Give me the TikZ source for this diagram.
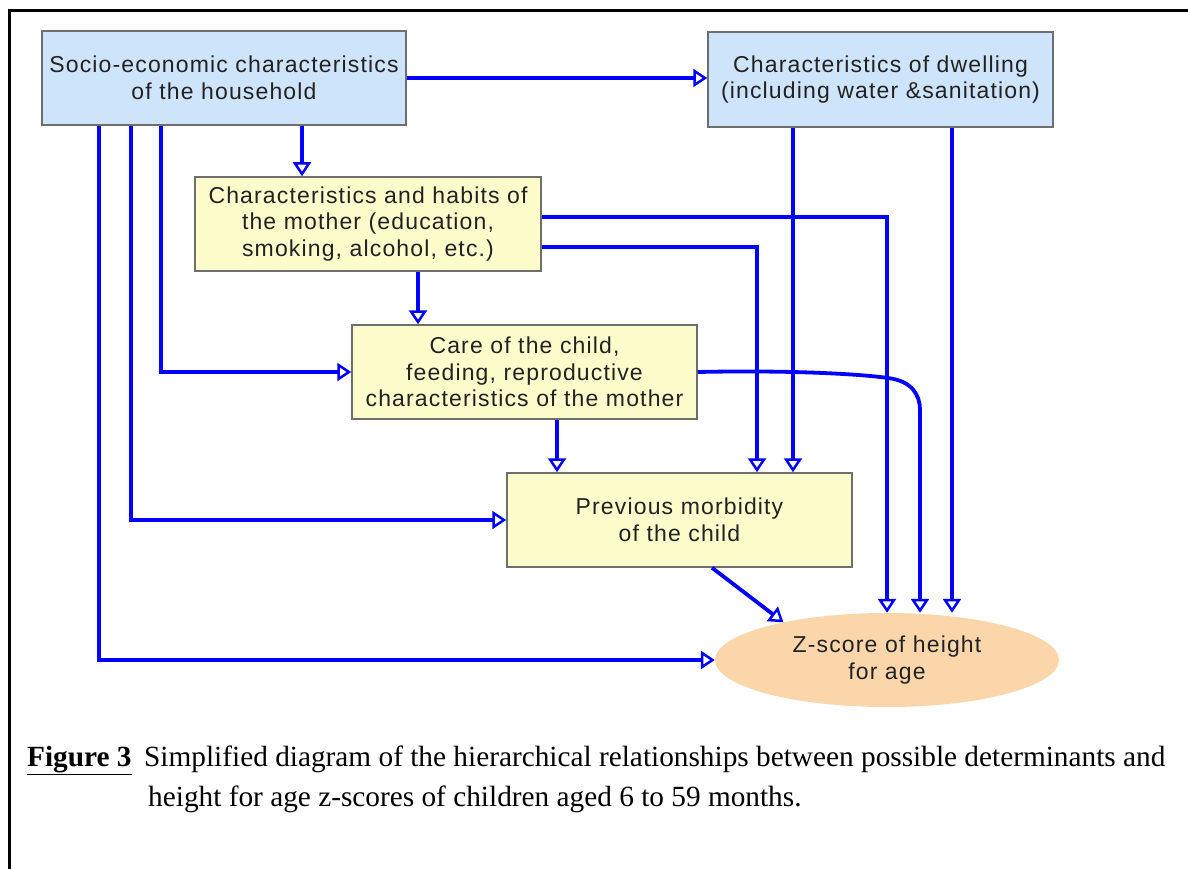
\documentclass[tikz,border=0pt]{standalone}
\usepackage{fontspec}
\setmainfont{Liberation Sans}
\newfontfamily\bxfont[LetterSpace=5]{Liberation Sans}
\newfontfamily\capfont{Liberation Serif}
\usetikzlibrary{arrows.meta,shapes.geometric}
\definecolor{lineblue}{RGB}{0,0,255}
\definecolor{boxblue}{RGB}{206,228,250}
\definecolor{boxyellow}{RGB}{253,253,204}
\definecolor{peach}{RGB}{251,214,170}
\definecolor{boxedge}{RGB}{110,110,110}
\definecolor{txt}{RGB}{34,34,34}
\begin{document}
\begin{tikzpicture}[x=1pt,y=-1pt,
  boxtext/.style={font=\bxfont\fontsize{23}{26.5}\selectfont, text=txt, align=center, inner sep=0pt},
  bluebox/.style={boxtext, draw=boxedge, line width=1.5pt, fill=boxblue, rectangle},
  yellowbox/.style={boxtext, draw=boxedge, line width=1.5pt, fill=boxyellow, rectangle},
  goalnode/.style={boxtext, ellipse, fill=peach},
  conn/.style={draw=lineblue, line width=3.8pt, -{Triangle[open,length=14pt,width=18pt,line width=2.5pt]}},
  captext/.style={anchor=base west, inner sep=0pt, font=\capfont\fontsize{29.3}{35}\selectfont, text=black}
]
\useasboundingbox (0,0) rectangle (1188,869);
\fill[white] (0,0) rectangle (1188,869);
% frame
\draw[line width=3pt, black] (9,869) -- (9,11) -- (1188,11);

% nodes
\node[bluebox, minimum width=364pt, minimum height=94pt] (se) at (224,78)
  {Socio-economic characteristics\\of the household};
\node[bluebox, minimum width=345pt, minimum height=95pt] (dw) at (880.5,79.5)
  {Characteristics of dwelling\\(including water \&sanitation)};
\node[yellowbox, minimum width=346pt, minimum height=94pt] (mo) at (368,224)
  {Characteristics and habits of\\the mother (education,\\smoking, alcohol, etc.)};
\node[yellowbox, minimum width=345pt, minimum height=94pt] (ca) at (524.5,372)
  {Care of the child,\\feeding, reproductive\\characteristics of the mother};
\node[yellowbox, minimum width=345pt, minimum height=94pt] (mb) at (679.5,520)
  {Previous morbidity\\of the child};
\node[goalnode, minimum width=344pt, minimum height=94pt] (zs) at (887,660)
  {Z-score of height\\for age};

% connectors
\draw[conn] (se.east) -- (se.east -| dw.west);
\draw[conn] (se.south -| 302,0) -- (mo.north -| 302,0);
\draw[conn] (se.south -| 161,0) |- (ca.west);
\draw[conn] (se.south -| 131,0) |- (mb.west);
\draw[conn] (se.south -| 99,0) |- (zs.west);
\draw[conn] (mo.south -| 418,0) -- (ca.north -| 418,0);
\draw[conn] (mo.east |- 0,217) -| (zs.north -| 887,0);
\draw[conn] (mo.east |- 0,247) -| (mb.north -| 757,0);
\draw[conn] (dw.south -| 793,0) -- (mb.north -| 793,0);
\draw[conn] (dw.south -| 952,0) -- (zs.north -| 952,0);
\draw[conn] (ca.east) .. controls (790,370) and (860,374) .. (888,378)
  .. controls (912,381) and (920,395) .. (920,410) -- (zs.north -| 920,0);
\draw[conn] (ca.south -| 557,0) -- (mb.north -| 557,0);
\draw[conn] (mb.south -| 712,0) -- (zs.160);

% caption
\node[captext] (fig) at (27,766) {\underline{\textbf{Figure 3}}};
\node[captext] (cap1) at (144,766) {Simplified diagram of the hierarchical relationships between possible determinants and};
\node[captext] (cap2) at (148,806) {height for age z-scores of children aged 6 to 59 months.};
\end{tikzpicture}
\end{document}
